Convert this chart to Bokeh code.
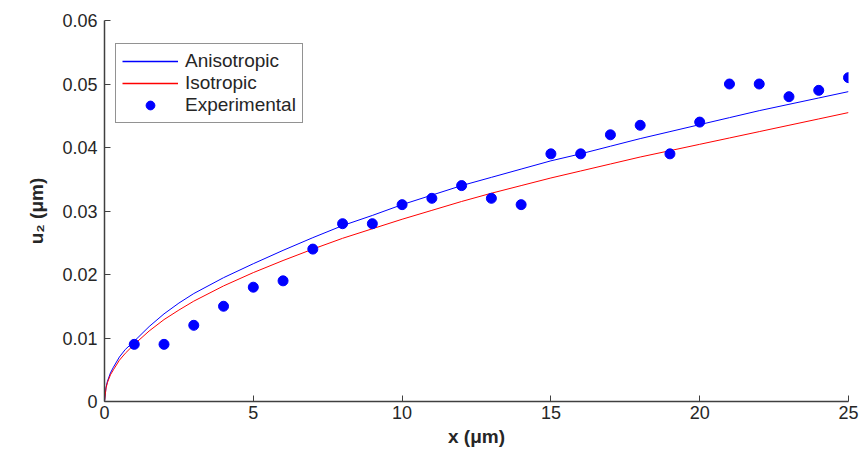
from bokeh.plotting import figure
from bokeh.models import FixedTicker, CustomJSTickFormatter, Range1d, Legend, LegendItem
from bokeh.embed import file_html
from bokeh.resources import INLINE

# Model curves
curve_x = [0, 0.05, 0.1, 0.2, 0.3, 0.5, 0.7, 1, 1.5, 2, 2.5, 3, 4, 5, 6, 7, 8,
           9, 10, 11, 12, 13, 14, 15, 16, 17, 18, 19, 20, 21, 22, 23, 24, 25]
aniso_y = [0, 0.0022, 0.0032, 0.0045, 0.0054, 0.0070, 0.0082, 0.0095, 0.0118,
           0.0138, 0.0155, 0.0170, 0.0195, 0.0217, 0.0238, 0.0258, 0.0277,
           0.0293, 0.0310, 0.0325, 0.0340, 0.0353, 0.0366, 0.0379, 0.0390,
           0.0402, 0.0414, 0.0425, 0.0436, 0.0447, 0.0458, 0.0468, 0.0478,
           0.0488]
iso_y = [0, 0.0021, 0.0030, 0.0042, 0.0050, 0.0065, 0.0076, 0.0090, 0.0111,
         0.0129, 0.0144, 0.0158, 0.0182, 0.0203, 0.0222, 0.0240, 0.0257,
         0.0272, 0.0287, 0.0301, 0.0315, 0.0328, 0.0340, 0.0352, 0.0363,
         0.0374, 0.0385, 0.0395, 0.0405, 0.0415, 0.0425, 0.0435, 0.0445,
         0.0455]

# Experimental points
exp_x = [1, 2, 3, 4, 5, 6, 7, 8, 9, 10, 11, 12, 13, 14, 15, 16, 17, 18, 19,
         20, 21, 22, 23, 24, 25]
exp_y = [0.009, 0.009, 0.012, 0.015, 0.018, 0.019, 0.024, 0.028, 0.028, 0.031,
         0.032, 0.034, 0.032, 0.031, 0.039, 0.039, 0.042, 0.0435, 0.039, 0.044,
         0.050, 0.050, 0.048, 0.049, 0.051]

x_ticks = [0, 5, 10, 15, 20, 25]
y_ticks = [0, 0.01, 0.02, 0.03, 0.04, 0.05, 0.06]

# empty data for legend-only swatches
nan_x = [float("nan")]
nan_y = [float("nan")]

FONT = "Liberation Sans"
TXT = "#262626"
BLUE = "#0000FF"
RED = "#FF0000"

p = figure(width=864, height=451, output_backend="svg", toolbar_location=None,
           x_range=Range1d(0, 25), y_range=Range1d(0, 0.06),
           min_border_left=104, min_border_right=16, min_border_top=20,
           min_border_bottom=50)
p.outline_line_color = None
p.xgrid.visible = False
p.ygrid.visible = False

p.line(x=curve_x, y=aniso_y, color=BLUE, line_width=1)
p.line(x=curve_x, y=iso_y, color=RED, line_width=1)
r_e = p.scatter(x=exp_x, y=exp_y, size=10, marker="circle", color=BLUE)
l_a = p.line(x=nan_x, y=nan_y, color=BLUE, line_width=1.5)
l_i = p.line(x=nan_x, y=nan_y, color=RED, line_width=1.5)

for ax in (p.xaxis[0], p.yaxis[0]):
    ax.axis_line_color = "#404040"
    ax.axis_line_width = 1.5
    ax.major_tick_line_color = "#404040"
    ax.major_tick_in = 6
    ax.major_tick_out = 0
    ax.minor_tick_line_color = None
    ax.major_label_text_font = FONT
    ax.major_label_text_font_size = "18px"
    ax.major_label_text_color = TXT
    ax.axis_label_text_font = FONT
    ax.axis_label_text_font_size = "19px"
    ax.axis_label_text_font_style = "bold"
    ax.axis_label_text_color = TXT

p.xaxis.ticker = FixedTicker(ticks=x_ticks)
p.yaxis.ticker = FixedTicker(ticks=y_ticks)
p.yaxis.formatter = CustomJSTickFormatter(code="return tick == 0 ? '0' : tick.toFixed(2);")
p.xaxis.axis_label = "x (μm)"
p.yaxis.axis_label = "u₂ (μm)"
p.xaxis.major_label_standoff = 4
p.xaxis.axis_label_standoff = 4
p.yaxis.major_label_standoff = 7
p.yaxis.axis_label_standoff = 12

legend = Legend(items=[LegendItem(label="Anisotropic", renderers=[l_a]),
                       LegendItem(label="Isotropic", renderers=[l_i]),
                       LegendItem(label="Experimental", renderers=[r_e])],
                location=(11, 278))
legend.label_text_font = FONT
legend.label_text_font_size = "19px"
legend.label_text_color = TXT
legend.label_height = 22
legend.glyph_height = 22
legend.glyph_width = 56
legend.label_standoff = 7
legend.spacing = 0
legend.padding = 6
legend.margin = 0
legend.border_line_color = "#262626"
legend.border_line_width = 1
legend.background_fill_alpha = 1
p.add_layout(legend, "center")

open("out.html", "w").write(file_html(p, INLINE))
